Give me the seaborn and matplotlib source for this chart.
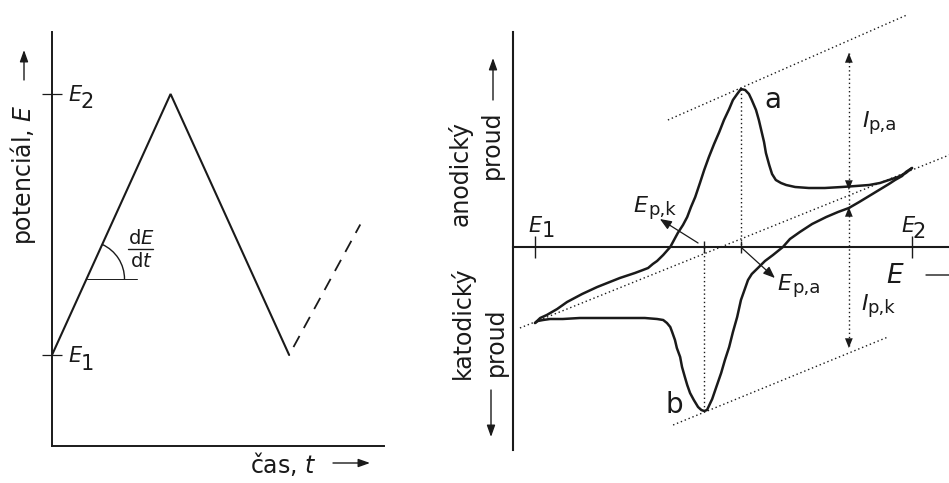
import numpy as np
import pandas as pd
import seaborn as sns
import matplotlib.pyplot as plt
from matplotlib.patches import Arc

# left panel: triangular potential sweep E(t)
t_sweep = [0.0, 1.0, 2.0]
E_sweep = [0.0, 1.0, 0.0]
t_next = [2.0, 2.6]
E_next = [0.0, 0.5]
E_low, E_high = 0.0, 1.0
t_angle = [0.291, 0.717]   # horizontal leg of the slope angle

# right panel: cyclic voltammogram (E in V, I in uA)
E_fwd = [0.000, 0.011, 0.025, 0.047, 0.068, 0.100, 0.132, 0.180, 0.212, 0.229,
         0.240, 0.250, 0.259, 0.272, 0.287, 0.295, 0.303, 0.314, 0.323, 0.331,
         0.340, 0.350, 0.359, 0.369, 0.380, 0.391, 0.401, 0.412, 0.420, 0.429,
         0.437, 0.446, 0.454, 0.460, 0.469, 0.475, 0.480, 0.486, 0.490, 0.497,
         0.503, 0.511, 0.522, 0.533, 0.552, 0.581, 0.615, 0.651, 0.681, 0.709,
         0.732, 0.751, 0.770, 0.787, 0.800]
I_fwd = [-7.6, -7.1, -6.8, -6.2, -5.5, -4.7, -4.0, -3.1, -2.6, -2.3,
         -2.1, -1.7, -1.4, -0.8, 0.0, 0.7, 1.4, 2.2, 3.0, 4.0,
         5.0, 6.4, 7.7, 9.0, 10.3, 11.5, 12.7, 13.8, 14.7, 15.3,
         15.8, 15.7, 15.3, 14.7, 13.7, 12.7, 11.7, 10.5, 9.4, 8.2,
         7.3, 6.7, 6.4, 6.2, 6.0, 5.9, 5.9, 6.0, 6.1, 6.2,
         6.4, 6.7, 7.0, 7.4, 7.9]
E_rev = [0.800, 0.787, 0.779, 0.764, 0.751, 0.730, 0.709, 0.688, 0.666, 0.643,
         0.618, 0.588, 0.562, 0.541, 0.526, 0.505, 0.488, 0.473, 0.460, 0.452,
         0.446, 0.437, 0.429, 0.420, 0.412, 0.403, 0.395, 0.384, 0.376, 0.369,
         0.365, 0.359, 0.353, 0.346, 0.337, 0.329, 0.323, 0.318, 0.312, 0.308,
         0.301, 0.297, 0.291, 0.287, 0.280, 0.272, 0.259, 0.233, 0.202, 0.159,
         0.095, 0.059, 0.032, 0.017, 0.006, 0.000]
I_rev = [7.9, 7.5, 7.1, 6.7, 6.3, 5.7, 5.1, 4.5, 3.9, 3.5,
         3.0, 2.3, 1.5, 0.8, 0.0, -0.8, -1.4, -2.1, -2.7, -3.3,
         -4.1, -5.3, -7.0, -8.5, -10.0, -11.3, -12.6, -14.1, -15.2, -15.9,
         -16.3, -16.4, -16.3, -16.0, -15.3, -14.6, -13.8, -13.0, -12.0, -11.0,
         -10.1, -9.3, -8.5, -8.0, -7.6, -7.3, -7.2, -7.1, -7.1, -7.1,
         -7.1, -7.2, -7.2, -7.3, -7.4, -7.6]
E_start, E_end = 0.0, 0.8
E_pa, I_pa = 0.437, 15.8
E_pk, I_pk = 0.359, -16.4

# dotted baselines
top_E, top_I = [0.282, 0.789], [12.7, 23.2]
mid_E, mid_I = [-0.032, 0.879], [-8.1, 9.2]
bot_E, bot_I = [0.293, 0.749], [-17.8, -9.0]
E_ip = 0.666
ipa_tip, ipa_base = 19.4, 5.7
ipk_tip, ipk_base = -10.1, 4.0

sns.set_theme(style='white')
plt.rcParams['font.family'] = ['DejaVu Sans']
plt.rcParams['mathtext.fontset'] = 'dejavusans'

ink = '#1a1a1a'
W, H = 949, 483
fig = plt.figure(figsize=(9.49, 4.83), dpi=100, facecolor='white')


def box(x0, y0, x1, y1):
    return [x0 / W, 1 - y1 / H, (x1 - x0) / W, (y1 - y0) / H]


def put(x, y, s, **kw):
    kw.setdefault('ha', 'left')
    kw.setdefault('va', 'baseline')
    fig.text(x / W, 1 - y / H, s, color=ink, **kw)


def fig_arrow(ax, x0, y0, x1, y1):
    ax.annotate('', xy=(x1, H - y1), xytext=(x0, H - y0),
                xycoords='figure pixels', textcoords='figure pixels',
                annotation_clip=False,
                arrowprops=dict(arrowstyle='-|>,head_length=0.7,head_width=0.25',
                                color=ink, lw=1.0, shrinkA=0, shrinkB=0,
                                mutation_scale=10))


def head(ax, x, y, x_from, y_from):
    ax.annotate('', xy=(x, y), xytext=(x_from, y_from),
                arrowprops=dict(arrowstyle='-|>,head_length=0.7,head_width=0.28',
                                color=ink, lw=0, shrinkA=0, shrinkB=0,
                                mutation_scale=10))


# ---------------- left panel
ax1 = fig.add_axes(box(52, 32, 384, 446))
ax1.patch.set_alpha(0)
ax1.set_xlim(0, 2.8)
ax1.set_ylim(-0.3487, 1.2375)
for side in ['top', 'right']:
    ax1.spines[side].set_visible(False)
for side in ['left', 'bottom']:
    ax1.spines[side].set_color(ink)
    ax1.spines[side].set_linewidth(1.4)
ax1.set_xticks([])
ax1.set_yticks([E_low, E_high])
ax1.set_yticklabels([])
ax1.tick_params(axis='y', direction='inout', length=14, width=0.9, color=ink, left=True)

sns.lineplot(x=t_sweep, y=E_sweep, sort=False, estimator=None, ax=ax1, color=ink,
             lw=1.5, solid_joinstyle='miter')
ax1.plot(t_next, E_next, color=ink, lw=1.3, linestyle=(7, (7, 5)))
ax1.plot(t_angle, [t_angle[0]] * 2, color=ink, lw=0.7)
ax1.add_patch(Arc((t_angle[0], t_angle[0]), width=2 * 38 / 118.57, height=2 * 38 / 261,
                  theta1=0, theta2=45, color=ink, lw=1.0))

put(68, 101, 'E', style='italic', size=15)
put(81, 108, '2', size=15)
put(68, 362, 'E', style='italic', size=15)
put(81, 370, '1', size=15)
put(141, 244, r'd$E$', ha='center', size=14)
put(141, 267, r'd$t$', ha='center', size=14)
fig.add_artist(plt.Line2D([128 / W, 153 / W], [1 - 249 / H] * 2, color=ink, lw=1.0))

put(23, 175, r'potenciál, $E$', rotation=90, ha='center', va='center', size=17)
put(250, 473, r'čas, $t$', size=17)
fig_arrow(ax1, 24, 80, 24, 50)
fig_arrow(ax1, 333, 463, 370, 463)

# ---------------- right panel
ax2 = fig.add_axes(box(513, 0, 949, 483))
ax2.patch.set_alpha(0)
ax2.set_xlim(-0.0467, 0.8785)
ax2.set_ylim(-23.6, 24.7)
for side in ['top', 'right']:
    ax2.spines[side].set_visible(False)
ax2.spines['left'].set_bounds(-20.3, 21.5)
ax2.spines['bottom'].set_position(('data', 0))
for side in ['left', 'bottom']:
    ax2.spines[side].set_color(ink)
    ax2.spines[side].set_linewidth(1.5)
ax2.set_yticks([])
ax2.set_xticks([E_start, E_end])
ax2.set_xticks([E_pk, E_pa], minor=True)
ax2.set_xticklabels([])
ax2.tick_params(axis='x', which='major', direction='inout', length=16, width=1.0,
                color=ink, bottom=True)
ax2.tick_params(axis='x', which='minor', direction='inout', length=9, width=1.0,
                color=ink, bottom=True)

for xs, ys in [(E_fwd, I_fwd), (E_rev, I_rev)]:
    sns.lineplot(x=xs, y=ys, sort=False, estimator=None, ax=ax2, color=ink, lw=1.8,
                 solid_joinstyle='round', solid_capstyle='round')

dot = dict(color=ink, lw=1.0, linestyle=(0, (1, 2)))
ax2.plot(top_E, top_I, **dot)
ax2.plot(mid_E, mid_I, **dot)
ax2.plot(bot_E, bot_I, **dot)
ax2.plot([E_pa, E_pa], [I_pa, 0], **dot)
ax2.plot([E_pk, E_pk], [I_pk, 0], **dot)
ax2.plot([E_ip, E_ip], [ipa_tip, ipk_tip], **dot)
head(ax2, E_ip, ipa_tip, E_ip, ipa_tip - 2)
head(ax2, E_ip, ipa_base, E_ip, ipa_base + 2)
head(ax2, E_ip, ipk_base, E_ip, ipk_base - 2)
head(ax2, E_ip, ipk_tip, E_ip, ipk_tip + 2)

small = dict(arrowstyle='-|>,head_length=0.7,head_width=0.28', color=ink, lw=0.9,
             shrinkA=0, shrinkB=0, mutation_scale=10)
ax2.annotate('', xy=(0.265, 2.8), xytext=(E_pk - 0.013, 0.4), arrowprops=small)
ax2.annotate('', xy=(0.509, -3.1), xytext=(E_pa + 0.002, -0.1), arrowprops=small)

put(460, 174, 'anodický', rotation=90, ha='center', va='center', size=17)
put(492, 145, 'proud', rotation=90, ha='center', va='center', size=17)
put(462, 323, 'katodický', rotation=90, ha='center', va='center', size=17)
put(496, 342, 'proud', rotation=90, ha='center', va='center', size=17)
fig_arrow(ax2, 493, 100, 493, 58)
fig_arrow(ax2, 491, 390, 491, 437)

put(528, 232, 'E', style='italic', size=15)
put(542, 237, '1', size=15)
put(901, 232, 'E', style='italic', size=15)
put(913, 238, '2', size=15)
put(886, 283, 'E', style='italic', size=19)
fig_arrow(ax2, 926, 275, 985, 275)

put(633, 212, 'E', style='italic', size=16)
put(648, 215, 'p,k', size=13)
put(777, 290, 'E', style='italic', size=16)
put(792, 293, 'p,a', size=13)
put(862, 127, 'I', style='italic', size=16)
put(868, 130, 'p,a', size=13)
put(861, 310, 'I', style='italic', size=16)
put(867, 313, 'p,k', size=13)
put(764, 108, 'a', size=20)
put(665, 413, 'b', size=20)

fig.savefig('out.png', dpi=100, facecolor='white')
